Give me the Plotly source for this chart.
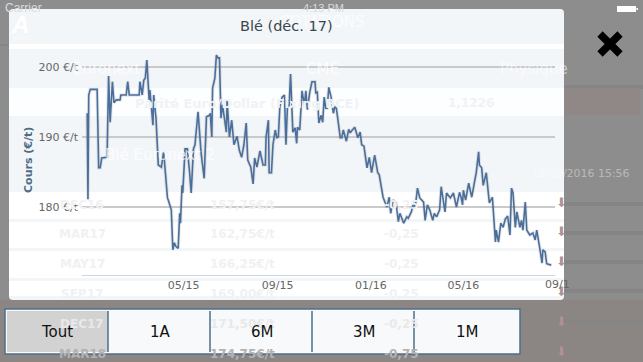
import pandas as pd
import plotly.graph_objects as go

W, H = 643, 362
BASE = pd.Timestamp("2015-05-01")

# days since BASE, price in EUR/t
days = [-126,-125,-124,-122,-113,-111,-109,-107,-100,-98,-96,-93,-91,-88,-83,-82,-75,-73,-71,-58,-57,-54,-52,-50,-48,-45,-44,-40,-39,-36,-33,-29,-26,-24,-21,-20,-16,-14,-12,-10,-7,-5,-4,-2,-1,
2,5,8,10,13,15,19,23,27,30,34,35,37,38,41,42,43,45,47,49,51,56,57,60,63,66,70,73,76,79,82,84,88,91,93,96,100,104,107,108,111,112,115,117,120,122,124,126,129,132,134,136,138,140,143,146,148,149,152,155,158,160,162,165,168,172,173,175,177,180,182,184,186,188,190,193,196,198,200,
205,207,209,213,216,218,220,224,228,231,233,236,240,243,246,250,254,256,261,266,269,271,274,278,281,283,288,292,294,298,301,303,306,309,314,316,319,322,326,328,331,335,337,340,342,344,349,353,355,357,361,363,365,366,369,373,377,381,383,386,387,390,392,396,400,404,408,409,412,415,418,421,424,427,429,431,434,436,440,442,444,447,449,453,457,460,462,466,469,470,473,475,481]
prices = [193.4,181.1,196.0,196.8,196.8,185.6,185.6,187.0,187.1,198.7,192.1,197.9,194.9,195.3,195.3,196.0,196.0,197.9,196.0,196.0,197.9,196.0,198.1,198.4,201.0,195.3,196.7,191.7,196.0,192.7,186.0,185.7,187.9,184.9,181.3,181.0,179.6,173.9,174.9,174.4,174.1,179.1,177.7,183.1,182.0,
188.3,188.3,184.9,182.0,188.3,188.9,193.6,187.7,184.1,192.9,193.1,193.4,190.0,197.0,198.4,199.6,201.7,201.3,201.3,192.7,194.6,190.7,195.3,190.0,192.4,188.9,190.1,188.1,187.1,188.9,192.0,186.7,185.7,183.3,187.0,185.7,188.0,186.0,186.0,190.0,192.4,184.9,184.9,188.9,191.0,189.9,190.0,194.3,195.7,196.0,188.9,194.6,194.4,199.0,190.7,191.3,189.1,191.4,191.0,196.6,194.6,196.6,193.9,196.3,197.9,197.9,196.3,196.4,192.0,193.1,192.1,195.7,194.1,194.1,197.1,195.7,193.4,194.3,194.1,
189.9,189.9,191.0,189.4,191.1,190.6,190.9,191.4,189.9,190.7,188.9,188.7,185.6,187.1,184.9,187.4,184.9,184.6,181.4,180.0,181.4,179.1,181.0,180.6,177.9,179.1,177.7,178.6,178.4,179.3,180.6,179.9,182.7,181.3,180.7,178.1,180.3,179.6,178.1,179.1,178.6,179.6,182.9,180.7,179.3,182.0,181.3,182.0,181.0,180.0,182.1,181.4,180.3,182.4,181.0,183.4,181.4,183.9,185.0,187.9,186.0,185.6,183.1,184.9,180.6,181.4,175.0,176.7,175.0,177.7,177.1,178.3,178.7,176.0,182.7,182.0,177.1,179.3,177.1,178.1,176.7,180.7,176.7,176.0,176.3,175.3,176.7,174.1,172.0,173.9,173.6,171.9,171.7]
y_ticks = [180, 190, 200]
y_labels = ["180 €/t", "190 €/t", "200 €/t"]
x_ticks = ["2015-05-01", "2015-09-01", "2016-01-01", "2016-05-01"]
x_labels = ["05/15", "09/15", "01/16", "05/16"]
buttons = ["Tout", "1A", "6M", "3M", "1M"]
title = "Blé (déc. 17)"
y_title = "Cours (€/t)"

dates = [BASE + pd.Timedelta(days=d) for d in days]
FONT = "DejaVu Sans"


def px(x):
    return x / W


def py(y):
    return 1 - y / H


shapes, ann = [], []


def rect(x0, y0, x1, y1, fill, line=None, lw=0):
    shapes.append(dict(type="rect", xref="paper", yref="paper", x0=px(x0), x1=px(x1), y0=py(y1), y1=py(y0),
                       fillcolor=fill, line=dict(color=line or fill, width=lw), layer="below"))


def text(x, y, s, color, size=12, anchor="center", **kw):
    ann.append(dict(xref="paper", yref="paper", x=px(x), y=py(y), text=s, showarrow=False, xanchor=anchor,
                    yanchor="middle", font=dict(family=kw.pop("family", FONT), size=size, color=color), **kw))


# dimmed page behind the modal card
rect(0, 0, W, H, "#8d8d8d")
rect(0, 300, W, H, "#8b8583")
for ry in (88, 205, 234, 263, 292, 322):
    rect(564, ry - 3, W, ry + 1, "#858585")
rect(564, 88, 640, 115, "#8f8887")
rect(0, 44, 9, 46, "#858585")

# card with faint rows of the page seen through it
shapes.append(dict(type="path", xref="paper", yref="paper", layer="below", fillcolor="#f3f6f9", line=dict(width=0),
    path=f"M {px(13)} {py(9)} L {px(560)} {py(9)} Q {px(564)} {py(9)} {px(564)} {py(13)} L {px(564)} {py(296)} "
         f"Q {px(564)} {py(300)} {px(560)} {py(300)} L {px(13)} {py(300)} Q {px(9)} {py(300)} {px(9)} {py(296)} "
         f"L {px(9)} {py(13)} Q {px(9)} {py(9)} {px(13)} {py(9)} Z"))
rect(9, 44, 564, 49, "#ffffff")
rect(9, 88, 564, 116, "#fdfeff")
rect(9, 192, 564, 219, "#ffffff")
rect(9, 222, 564, 248, "#ffffff")
rect(9, 251, 564, 278, "#ffffff")
rect(9, 281, 564, 296, "#ffffff")

# range selector
rect(5, 309, 520, 354, "#f8f9fa", "#4d6f88", 1.5)
rect(7, 311, 108, 352, "#d2d2d2")
for bx in (108, 210, 312, 414):
    shapes.append(dict(type="line", xref="paper", yref="paper", x0=px(bx), x1=px(bx), y0=py(311), y1=py(352),
                       line=dict(color="#4d6f88", width=1.5), layer="below"))

# close cross
for (xa, ya, xb, yb) in ((600, 34, 620, 54), (600, 54, 620, 34)):
    shapes.append(dict(type="line", xref="paper", yref="paper", x0=px(xa), x1=px(xb), y0=py(ya), y1=py(yb),
                       line=dict(color="#000000", width=7.5)))

# battery
rect(617, 6, 636, 12, "#ffffff")
rect(636.5, 8, 638, 10, "#ffffff")

# ghost texts
GH = "rgba(255,255,255,0.75)"
text(23, 8, "Carrier", "#dcdcdc", 12, family="Liberation Sans")
text(323, 8, "4:13 PM", "#dcdcdc", 11, family="Liberation Sans")
text(20, 25, "<b><i>A</i></b>", "#ffffff", 24, family="Liberation Sans")
text(23, 38, "ACCESS", "rgba(255,255,255,0.6)", 5)
text(322, 22, "COTATIONS", "rgba(255,255,255,0.7)", 15)
text(106, 69, "Euronext", GH, 15)
text(322, 69, "CME", GH, 15)
text(534, 69, "Physique", "rgba(255,255,255,0.55)", 15)
text(247, 103, "<b>Parité Euro/Dollar (Fixing BCE)</b>", "#f0f2f4", 13)
text(471, 103, "<b>1,1226</b>", "#f0f2f4", 12)
text(160, 155, "Blé Euronext 2", GH, 15)
text(580, 173, "13/09/2016 15:56", "rgba(255,255,255,0.4)", 11)
for ry, c, p, v in [(205, "DEC16", "157,75€/t", "-0,25"), (234, "MAR17", "162,75€/t", "-0,25"),
                    (264, "MAY17", "166,25€/t", "-0,25"), (294, "SEP17", "169,00€/t", "-0,25"),
                    (324, "DEC17", "171,50€/t", "-0,25"), (354, "MAR18", "174,75€/t", "-0,75")]:
    col = "#f0f1f3" if ry < 300 else ("#e8e9ea" if ry < 340 else "#b4b2b0")
    text(82, ry, f"<b>{c}</b>", col, 12)
    text(242, ry, f"<b>{p}</b>", col, 12)
    text(401, ry, f"<b>{v}</b>", col, 12)
    text(561, ry - 3, "⬇", "#b09292", 13)

# real chart texts
text(286.5, 26, title, "#39464f", 14.5)
text(28, 160, f"<b>{y_title}</b>", "#4d6d85", 11, textangle=-90)
text(543, 284, "09/1", "#666666", 11, anchor="left")
for b, cx in zip(buttons, (57, 160, 262, 364, 467)):
    text(cx, 332, b, "#111111", 15)

# soft shadow, then the series line
traces = [
    go.Scatter(x=dates, y=prices, mode="lines", line=dict(color="rgba(60,60,60,0.12)", width=3.5), hoverinfo="skip"),
    go.Scatter(x=dates, y=prices, mode="lines", line=dict(color="#4a6f9c", width=1.6)),
]

fig = go.Figure(traces)
fig.update_layout(
    width=W, height=H, autosize=False, margin=dict(l=0, r=0, t=0, b=0, autoexpand=False), showlegend=False,
    paper_bgcolor="#8d8d8d", plot_bgcolor="rgba(0,0,0,0)", shapes=shapes, annotations=ann,
    xaxis=dict(domain=[px(82), px(555)], type="date",
               range=[BASE + pd.Timedelta(days=-132.8), BASE + pd.Timedelta(days=485.9)],
               tickmode="array", tickvals=x_ticks, ticktext=x_labels, showgrid=False, showline=True,
               linecolor="#ccd6e0", linewidth=1, ticks="", zeroline=False,
               tickfont=dict(family=FONT, size=11, color="#666666")),
    yaxis=dict(domain=[py(275), py(50)], range=[170.29, 202.43], tickmode="array", tickvals=y_ticks,
               ticktext=y_labels, showgrid=True, gridcolor="#cacaca", gridwidth=1.5, zeroline=False,
               showline=False, ticks="", ticklabelstandoff=3,
               tickfont=dict(family=FONT, size=11, color="#666666")),
)
fig.write_html("out.html", config=dict(displayModeBar=False),
               post_script="document.body.style.margin='0';document.body.style.overflow='hidden';")
